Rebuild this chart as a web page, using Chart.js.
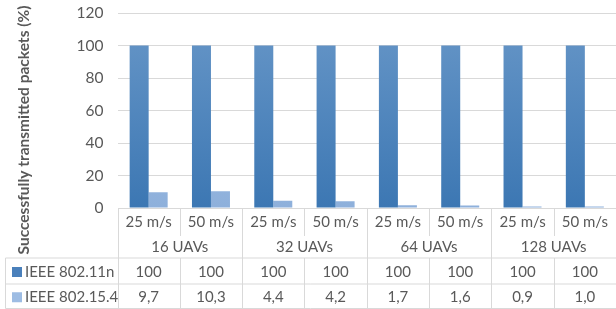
<!DOCTYPE html>
<html>
<head>
<meta charset="utf-8">
<script src="https://cdn.jsdelivr.net/npm/chart.js@4/dist/chart.umd.min.js"></script>
<style>
  html, body { margin: 0; padding: 0; background: #fff; }
  #wrap { width: 616px; height: 309px; }
</style>
</head>
<body>
<div id="wrap"><canvas id="chart" width="616" height="309"></canvas></div>
<script>
// data
const groups = ['16 UAVs', '32 UAVs', '64 UAVs', '128 UAVs'];
const speeds = ['25 m/s', '50 m/s'];
const seriesNames = ['IEEE 802.11n', 'IEEE 802.15.4'];
const wifi = [100, 100, 100, 100, 100, 100, 100, 100];
const zigbee = [9.7, 10.3, 4.4, 4.2, 1.7, 1.6, 0.9, 1.0];
const decimals = [0, 1];
const yTicks = [0, 20, 40, 60, 80, 100, 120];
const yTitle = 'Successfully transmitted packets (%)';

const labels = [];
groups.forEach(g => speeds.forEach(s => labels.push(s + ' ' + g)));

const textColor = '#595959';
const lineColor = '#d9d9d9';
const fontFamily = 'Lato, "Open Sans", sans-serif';

function grad(ctx, top, bottom) {
  const area = ctx.chart.chartArea;
  if (!area) return bottom;
  const g = ctx.chart.ctx.createLinearGradient(0, area.top, 0, area.bottom);
  g.addColorStop(0, top);
  g.addColorStop(1, bottom);
  return g;
}

const swatches = ['#4a80bb', '#9dbce3'];

// draws the data table under the plot and the rotated axis title
const tablePlugin = {
  id: 'table',
  afterDraw(chart) {
    const ctx = chart.ctx;
    const x = chart.scales.x;
    const a = chart.chartArea;
    const n = labels.length;
    const colW = (a.right - a.left) / n;
    const r0 = a.bottom, r1 = r0 + 26, r2 = r0 + 50, r3 = r0 + 76, r4 = 308.5;
    const tableLeft = 5.5;

    ctx.save();
    ctx.strokeStyle = lineColor;
    ctx.lineWidth = 1;
    ctx.beginPath();
    [r2, r3, r4].forEach(y => { ctx.moveTo(tableLeft, y); ctx.lineTo(a.right, y); });
    ctx.moveTo(Math.round(a.left) + 0.5, r0); ctx.lineTo(Math.round(a.left) + 0.5, r4);
    ctx.moveTo(tableLeft, r2); ctx.lineTo(tableLeft, r4);
    for (let i = 1; i <= n; i++) {
      const xx = Math.round(a.left + colW * i) + 0.5;
      if (i % speeds.length === 0) {
        ctx.moveTo(xx, r0); ctx.lineTo(xx, r4);
      } else {
        ctx.moveTo(xx, r0); ctx.lineTo(xx, r1 + 2);
        ctx.moveTo(xx, r2); ctx.lineTo(xx, r4);
      }
    }
    ctx.stroke();

    ctx.fillStyle = textColor;
    ctx.font = '15px ' + fontFamily;
    ctx.textAlign = 'center';
    ctx.textBaseline = 'middle';
    for (let i = 0; i < n; i++) {
      const cx = x.getPixelForValue(i);
      ctx.fillText(speeds[i % speeds.length], cx, (r0 + r1) / 2 + 1);
    }
    groups.forEach((g, gi) => {
      const cx = a.left + colW * speeds.length * (gi + 0.5);
      ctx.fillText(g, cx, (r1 + r2) / 2 + 1);
    });

    const rows = [[r2, r3], [r3, r4]];
    chart.data.datasets.forEach((ds, di) => {
      const cy = (rows[di][0] + rows[di][1]) / 2 + 1;
      ctx.fillStyle = swatches[di];
      ctx.fillRect(12, cy - 5, 10, 10);
      ctx.fillStyle = textColor;
      ctx.textAlign = 'left';
      ctx.fillText(seriesNames[di], 25, cy);
      ctx.textAlign = 'center';
      ds.data.forEach((v, i) => {
        ctx.fillText(v.toFixed(decimals[di]).replace('.', ','), x.getPixelForValue(i), cy);
      });
    });

    // axis title
    ctx.translate(24, 130);
    ctx.rotate(-Math.PI / 2);
    ctx.font = 'bold 15.5px ' + fontFamily;
    ctx.fillText(yTitle, 0, 0);
    ctx.restore();
  }
};

new Chart(document.getElementById('chart'), {
  type: 'bar',
  data: {
    labels: labels,
    datasets: [
      {
        label: seriesNames[0],
        data: wifi,
        backgroundColor: ctx => grad(ctx, '#6897c8', '#3c77b3')
      },
      {
        label: seriesNames[1],
        data: zigbee,
        backgroundColor: ctx => grad(ctx, '#a8c4e7', '#8eb0db')
      }
    ]
  },
  options: {
    responsive: false,
    animation: false,
    layout: { padding: { top: 13, right: 0, bottom: 101, left: 0 } },
    plugins: { legend: { display: false }, tooltip: { enabled: false } },
    datasets: { bar: { categoryPercentage: 0.61, barPercentage: 1 } },
    scales: {
      x: { display: false },
      y: {
        min: 0,
        max: 120,
        afterFit: s => { s.width = 117.5; },
        afterBuildTicks: s => { s.ticks = yTicks.map(v => ({ value: v })); },
        border: { display: false },
        grid: { color: lineColor, drawTicks: true, tickLength: 14, tickColor: 'rgba(0,0,0,0)' },
        ticks: {
          color: textColor,
          padding: 0,
          font: { family: fontFamily, size: 15.5 }
        }
      }
    }
  },
  plugins: [tablePlugin]
});
</script>
</body>
</html>
